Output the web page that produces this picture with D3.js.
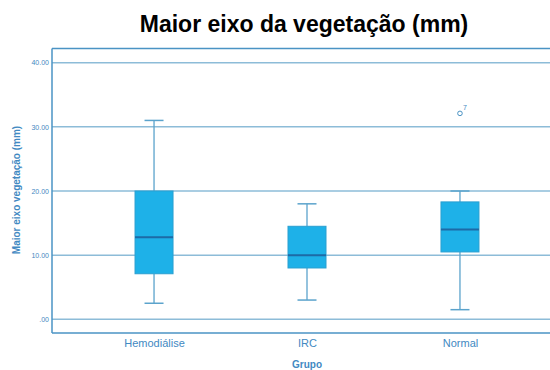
<!DOCTYPE html>
<html><head><meta charset="utf-8">
<script src="https://cdn.jsdelivr.net/npm/d3@7/dist/d3.min.js"></script>
<style>body{margin:0;background:#fff;}svg{display:block;font-family:"Liberation Sans",Arial,sans-serif;}</style>
</head><body><svg id="c" width="550" height="370"></svg>
<script>
const categories = ["Hemodiálise", "IRC", "Normal"];
const whiskerLow = [2.5, 3.0, 1.5];
const q1 = [7.1, 8.0, 10.5];
const median = [12.8, 10.0, 14.0];
const q3 = [20.0, 14.5, 18.3];
const whiskerHigh = [31.0, 18.0, 20.0];
const outliers = [{group: "Normal", value: 32.1, label: "7"}];
const yTicks = [0, 10, 20, 30, 40];
const yTickLabels = [".00", "10.00", "20.00", "30.00", "40.00"];

(function () {
const svg = d3.select("#c");
const pl = 52, pr = 562, pt = 48.5, pb = 333;
const x = d3.scalePoint().domain(categories).range([pl, pr]).padding(0.667);
const y = d3.scaleLinear().domain([0, 40]).range([319.3, 62.7]);

const gridCol = "#8dbcd8", frameCol = "#4a93c4", textCol = "#4289c2";

svg.append("g").selectAll("line").data(yTicks).join("line")
  .attr("x1", pl).attr("x2", 550).attr("y1", d => y(d)).attr("y2", d => y(d))
  .attr("stroke", gridCol).attr("stroke-width", 1.5);

svg.append("line").attr("x1", pl).attr("x2", 550).attr("y1", pt).attr("y2", pt).attr("stroke", frameCol).attr("stroke-width", 1.5);
svg.append("line").attr("x1", pl).attr("x2", 550).attr("y1", pb).attr("y2", pb).attr("stroke", frameCol).attr("stroke-width", 1.5);
svg.append("line").attr("x1", pl).attr("x2", pl).attr("y1", pt).attr("y2", pb).attr("stroke", frameCol).attr("stroke-width", 1.5);

const yAxis = d3.axisLeft(y).tickValues(yTicks).tickFormat((d, i) => yTickLabels[i]).tickSize(0).tickPadding(3);
const ya = svg.append("g").attr("transform", `translate(${pl},0)`).call(yAxis);
ya.select(".domain").remove();
ya.selectAll("text").attr("fill", textCol).attr("font-size", 7).attr("font-family", "Liberation Sans, Arial, sans-serif");

const xAxis = d3.axisBottom(x).tickSize(0).tickPadding(6);
const xa = svg.append("g").attr("transform", `translate(0,${pb})`).call(xAxis);
xa.select(".domain").remove();
xa.selectAll("text").attr("fill", textCol).attr("font-size", 11).attr("font-family", "Liberation Sans, Arial, sans-serif");

const bw = 38, cw = 19;
const data = categories.map((c, i) => ({c, lo: whiskerLow[i], q1: q1[i], med: median[i], q3: q3[i], hi: whiskerHigh[i]}));
const b = svg.append("g").selectAll("g").data(data).join("g");
const whCol = "#5ba3cc";
b.append("line").attr("x1", d => x(d.c)).attr("x2", d => x(d.c)).attr("y1", d => y(d.hi)).attr("y2", d => y(d.q3)).attr("stroke", whCol).attr("stroke-width", 1.3);
b.append("line").attr("x1", d => x(d.c)).attr("x2", d => x(d.c)).attr("y1", d => y(d.q1)).attr("y2", d => y(d.lo)).attr("stroke", whCol).attr("stroke-width", 1.3);
b.append("line").attr("x1", d => x(d.c) - cw/2).attr("x2", d => x(d.c) + cw/2).attr("y1", d => y(d.hi)).attr("y2", d => y(d.hi)).attr("stroke", whCol).attr("stroke-width", 1.5);
b.append("line").attr("x1", d => x(d.c) - cw/2).attr("x2", d => x(d.c) + cw/2).attr("y1", d => y(d.lo)).attr("y2", d => y(d.lo)).attr("stroke", whCol).attr("stroke-width", 1.5);
b.append("rect").attr("x", d => x(d.c) - bw/2).attr("width", bw).attr("y", d => y(d.q3)).attr("height", d => y(d.q1) - y(d.q3))
  .attr("fill", "#1eb1e8").attr("stroke", "#2a9fd0").attr("stroke-width", 1);
b.append("line").attr("x1", d => x(d.c) - bw/2).attr("x2", d => x(d.c) + bw/2).attr("y1", d => y(d.med)).attr("y2", d => y(d.med)).attr("stroke", "#1d6aa6").attr("stroke-width", 2);

const o = svg.append("g").selectAll("g").data(outliers).join("g");
o.append("circle").attr("cx", d => x(d.group)).attr("cy", d => y(d.value)).attr("r", 2.3).attr("fill", "none").attr("stroke", "#4a93c4").attr("stroke-width", 1);
o.append("text").attr("x", d => x(d.group) + 3).attr("y", d => y(d.value) - 3).text(d => d.label).attr("fill", textCol).attr("font-size", 7);

svg.append("text").attr("x", 304).attr("y", 31.5).attr("text-anchor", "middle").attr("font-size", 23).attr("font-weight", "bold").attr("fill", "#000").text("Maior eixo da vegetação (mm)");
svg.append("text").attr("x", 307).attr("y", 368).attr("text-anchor", "middle").attr("font-size", 10).attr("font-weight", "bold").attr("fill", textCol).text("Grupo");
svg.append("text").attr("transform", "translate(20,190) rotate(-90)").attr("text-anchor", "middle").attr("font-size", 10).attr("font-weight", "bold").attr("fill", textCol).text("Maior eixo vegetação (mm)");
})();
</script></body></html>
